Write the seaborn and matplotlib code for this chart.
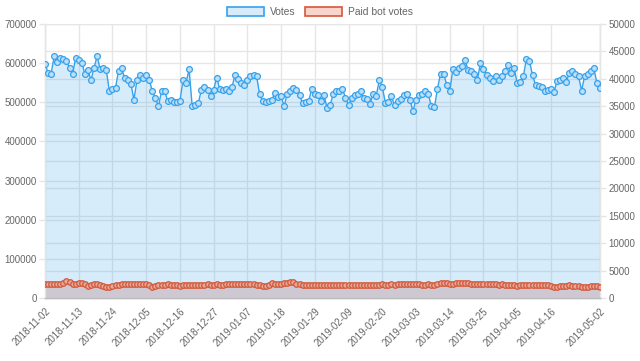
import numpy as np
import pandas as pd
import matplotlib
matplotlib.use("Agg")
import matplotlib.pyplot as plt
from matplotlib.patches import Patch
import seaborn as sns

# ---- data ----
start_date = "2018-11-02"
end_date = "2019-05-02"

votes_k = [
    599, 575, 573, 618, 603, 613, 610, 605, 588, 572, 614,
    607, 601, 572, 582, 557, 587, 618, 584, 587, 582, 528,
    533, 537, 581, 587, 561, 558, 547, 507, 556, 570, 563,
    570, 558, 528, 511, 490, 528, 530, 503, 505, 500, 502,
    503, 556, 550, 584, 490, 493, 498, 532, 540, 532, 515,
    532, 563, 533, 532, 533, 528, 540, 570, 560, 550, 545,
    558, 567, 570, 567, 520, 503, 501, 503, 507, 524, 513,
    515, 490, 522, 530, 537, 532, 518, 498, 501, 503, 535,
    520, 518, 503, 518, 485, 494, 520, 528, 530, 535, 511,
    494, 511, 518, 521, 528, 511, 509, 496, 521, 515, 556,
    540, 498, 501, 515, 492, 503, 509, 518, 520, 507, 477,
    507, 518, 521, 528, 521, 490, 487, 535, 573, 573, 545,
    528, 584, 577, 588, 592, 607, 582, 581, 571, 556, 601,
    584, 569, 563, 554, 567, 556, 567, 579, 595, 575, 587,
    549, 552, 567, 610, 605, 569, 544, 541, 539, 530, 532,
    535, 526, 554, 558, 563, 552, 575, 581, 573, 566, 530,
    567, 573, 581, 587, 549, 537,
]

paid_k = [
    36, 37, 37, 36, 37, 37, 38, 44, 40, 36, 37,
    39, 38, 37, 31, 33, 36, 35, 33, 31, 29, 27,
    30, 33, 34, 36, 36, 37, 36, 37, 36, 36, 37,
    36, 33, 29, 31, 33, 34, 34, 35, 34, 34, 33,
    31, 33, 34, 34, 34, 33, 34, 34, 34, 35, 34,
    34, 35, 34, 34, 35, 36, 36, 37, 36, 36, 37,
    36, 36, 35, 34, 33, 31, 30, 34, 39, 37, 36,
    37, 38, 39, 40, 40, 37, 36, 34, 34, 33, 34,
    34, 34, 34, 33, 32, 33, 34, 34, 33, 34, 34,
    33, 34, 34, 33, 34, 34, 34, 33, 34, 34, 34,
    35, 34, 34, 35, 34, 35, 35, 35, 35, 35, 36,
    36, 35, 34, 33, 36, 33, 32, 35, 38, 39, 38,
    37, 37, 38, 38, 39, 39, 38, 37, 36, 35, 35,
    35, 35, 35, 35, 35, 34, 35, 34, 34, 33, 32,
    31, 32, 33, 34, 34, 33, 32, 33, 34, 34, 33,
    30, 29, 29, 30, 31, 31, 32, 31, 30, 30, 29,
    29, 29, 30, 31, 30, 28,
]

left_ticks = [0, 100000, 200000, 300000, 400000, 500000, 600000, 700000]
right_ticks = [0, 5000, 10000, 15000, 20000, 25000, 30000, 35000, 40000, 45000, 50000]
series_names = ["Votes", "Paid bot votes"]

dates = pd.date_range(start_date, end_date, freq="D")
votes = np.array(votes_k) * 1000
paid = np.array(paid_k) * 1000
df = pd.DataFrame({"date": dates, "votes": votes, "paid": paid})

# ---- style ----
sns.set_theme(style="white")
plt.rcParams["font.family"] = ["Liberation Sans", "DejaVu Sans"]

blue = (54 / 255, 162 / 255, 235 / 255)
blue_fill = (54 / 255, 162 / 255, 235 / 255, 0.2)
red = "#d4583a"
red_fill_legend = (240 / 255, 110 / 255, 80 / 255, 0.3)
red_fill_area = "#cdc8d2"
grid_c = "#e6e6e6"
text_c = "#666666"
fs = 7

fig = plt.figure(figsize=(6.4, 3.61), dpi=100)
ax = fig.add_axes([45 / 640, 1 - 298 / 361, 555 / 640, 274 / 361])
ax2 = ax.twinx()
ax.set_zorder(ax2.get_zorder() + 1)
ax.patch.set_visible(False)
ax2.patch.set_facecolor("white")

# fills
ax.fill_between(df["date"], df["votes"], color=blue_fill, lw=0, zorder=1)
ax.fill_between(df["date"], df["paid"], color=red_fill_area, lw=0, zorder=2)

sns.lineplot(data=df, x="date", y="votes", ax=ax, color=blue, lw=1,
             marker="o", markersize=4.2, markerfacecolor=(0.74, 0.87, 0.97),
             markeredgecolor=blue, markeredgewidth=0.9, zorder=3)
sns.lineplot(data=df, x="date", y="paid", ax=ax, color=red, lw=1,
             marker="o", markersize=4.0, markerfacecolor="#e3a898",
             markeredgecolor=red, markeredgewidth=0.9, zorder=4)

ax.set_xlim(dates[0], dates[-1])
ax.set_ylim(0, 700000)
ax2.set_ylim(0, 50000)

tick_idx = list(range(0, 166, 11)) + [len(dates) - 1]
ax.set_xticks([dates[i] for i in tick_idx])
ax.set_xticklabels([dates[i].strftime("%Y-%m-%d") for i in tick_idx],
                   rotation=45, ha="right", rotation_mode="anchor",
                   color=text_c, fontsize=fs)
ax.set_yticks(left_ticks)
ax.set_yticklabels([str(t) for t in left_ticks], color=text_c, fontsize=fs)
ax2.set_yticks(right_ticks)
ax2.set_yticklabels([str(t) for t in right_ticks], color=text_c, fontsize=fs)

ax.set_xlabel("")
ax.set_ylabel("")
ax2.set_ylabel("")

# grids
ax2.grid(True, axis="y", color=grid_c, lw=1)
ax2.grid(False, axis="x")
ax.grid(True, axis="both", color=grid_c, lw=1)
ax.set_axisbelow(True)

ax.tick_params(axis="both", length=4, color=grid_c, width=1, pad=2)
ax2.tick_params(axis="y", length=4, color=grid_c, width=1, pad=2)

for a in (ax, ax2):
    for s in a.spines.values():
        s.set_color(grid_c)
        s.set_linewidth(1)
    a.spines["top"].set_visible(False)
ax.spines["bottom"].set_color("#bdbdbd")
ax2.spines["bottom"].set_color("#bdbdbd")

handles = [
    Patch(facecolor=blue_fill, edgecolor=blue, lw=1.2, label=series_names[0]),
    Patch(facecolor=red_fill_legend, edgecolor=red, lw=1.2, label=series_names[1]),
]
fig.legend(handles=handles, loc="center", bbox_to_anchor=(0.5, 1 - 12 / 361),
           ncol=2, frameon=False, fontsize=fs + 0.4, handlelength=3.6,
           handleheight=0.9, columnspacing=1.0, handletextpad=0.5,
           labelcolor=text_c)

fig.savefig("out.png", dpi=100)
